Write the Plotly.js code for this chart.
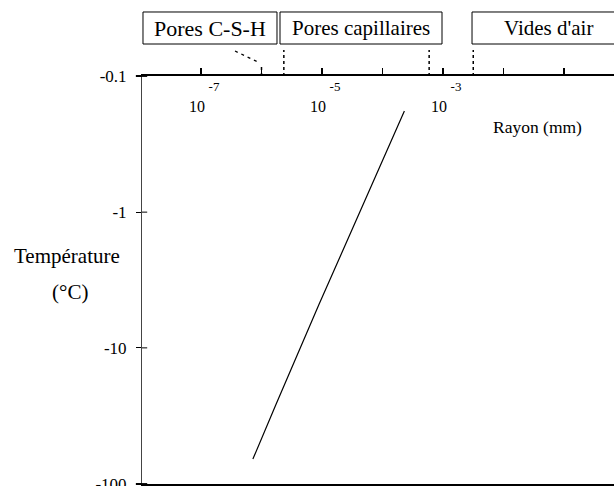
<!DOCTYPE html>
<html>
<head>
<meta charset="utf-8">
<script src="https://cdn.plot.ly/plotly-3.0.1.min.js"></script>
<style>html,body{margin:0;padding:0;background:#fff;overflow:hidden;}#chart{width:614px;height:486px;}</style>
</head>
<body>
<div id="chart"></div>
<script>
// Data
const radius_mm = [7.2e-7, 1.74e-6, 8.9e-6, 4.8e-5, 2.3e-4];
const temperature_C = [-66, -26, -4.8, -0.88, -0.18];

const NB = '\u00a0';
const xTickVals = [1e-8, 1e-7, 1e-6, 1e-5, 1e-4, 1e-3, 1e-2, 1e-1];
const xTickExp = ['', '-7', '', '-5', '', '-3', '', ''];
const yTickVals = [0.1, 1, 10, 100];
const yTickText = ['-0.1', '-1', '-10', '-100'];

const zoneLabels = ['Pores C-S-H', 'Pores capillaires', "Vides d'air"];
const zoneBoundaries_mm = [2.34e-6, 5.9e-4, 3.16e-3];

const FONT = 'Liberation Serif';

// tick label built as exponent line above a "10" line
const xTickText = xTickExp.map(e => e === '' ? '' :
  '<span style="font-size:13px">' + NB.repeat(8) + e + '</span><br>10' + NB.repeat(2));

const trace = {
  x: radius_mm,
  y: temperature_C.map(t => Math.abs(t)),
  type: 'scatter',
  mode: 'lines',
  line: {color: '#000', width: 1.2},
  hoverinfo: 'skip',
  showlegend: false
};

const shapes = [];
shapes.push({type: 'line', xref: 'paper', yref: 'paper', x0: -0.013, x1: 0, y0: 1, y1: 1, line: {color: '#000', width: 2}});
shapes.push({type: 'line', xref: 'paper', yref: 'paper', x0: -0.013, x1: 0, y0: 0, y1: 0, line: {color: '#000', width: 2}});
yTickVals.forEach(v => {
  shapes.push({type: 'line', xref: 'paper', yref: 'y', x0: 0, x1: 0.011, y0: v, y1: v, line: {color: '#000', width: 1}});
});
const boxes = [[0.0021, 0.286], [0.2924, 0.6356], [0.6992, 1.01]];
boxes.forEach(b => {
  shapes.push({type: 'rect', xref: 'paper', yref: 'paper', x0: b[0], x1: b[1], y0: 1.0784, y1: 1.1569, line: {color: '#000', width: 1}, fillcolor: '#fff'});
});
zoneBoundaries_mm.forEach(r => {
  shapes.push({type: 'line', xref: 'x', yref: 'paper', x0: r, x1: r, y0: 1.0, y1: 1.0637, line: {color: '#000', width: 1.5, dash: '3px,3px'}});
});
shapes.push({type: 'line', xref: 'x', yref: 'paper', x0: 3.65e-7, x1: 9.4e-7, y0: 1.0613, y1: 1.0319, line: {color: '#000', width: 1.3, dash: '3px,4px'}});
shapes.push({type: 'line', xref: 'x', yref: 'paper', x0: 1.0e-6, x1: 1.0e-6, y0: 1.0, y1: 1.027, line: {color: '#000', width: 1.5, dash: '3px,3px'}});

const boxCenters = [0.144, 0.464, 0.862];
const annotations = zoneLabels.map((t, i) => ({
  text: t, xref: 'paper', yref: 'paper', x: boxCenters[i], y: 1.1176,
  xanchor: 'center', yanchor: 'middle', showarrow: false,
  font: {family: FONT, size: i === 0 ? 22 : 21, color: '#000'}
}));
annotations.push({text: 'Rayon (mm)', xref: 'paper', yref: 'paper', x: 0.837, y: 0.875, xanchor: 'center', yanchor: 'middle', showarrow: false, font: {family: FONT, size: 17.5, color: '#000'}});
annotations.push({text: 'Température', xref: 'paper', yref: 'paper', x: -0.159, y: 0.558, xanchor: 'center', yanchor: 'middle', showarrow: false, font: {family: FONT, size: 21, color: '#000'}});
annotations.push({text: '(°C)', xref: 'paper', yref: 'paper', x: -0.153, y: 0.47, xanchor: 'center', yanchor: 'middle', showarrow: false, font: {family: FONT, size: 21, color: '#000'}});
annotations.push({text: '10', xref: 'paper', yref: 'paper', x: 0.9936, y: 0.925, xanchor: 'left', yanchor: 'middle', showarrow: false, font: {family: FONT, size: 16, color: '#000'}});

const layout = {
  width: 614, height: 486,
  margin: {l: 142, r: 0, t: 76, b: 2, pad: 0},
  paper_bgcolor: '#fff', plot_bgcolor: '#fff',
  showlegend: false,
  font: {family: FONT, size: 16, color: '#000'},
  xaxis: {
    type: 'log', side: 'top', range: [-7.975, -0.174],
    tickmode: 'array', tickvals: xTickVals, ticktext: xTickText,
    ticks: 'outside', ticklen: 6, tickwidth: 1.5, tickcolor: '#000',
    ticklabelposition: 'outside', ticklabelstandoff: -50, ticklabeloverflow: 'allow',
    showline: true, linewidth: 2, linecolor: '#000', mirror: true,
    showgrid: false, zeroline: false,
    tickfont: {family: FONT, size: 16, color: '#000'}
  },
  yaxis: {
    type: 'log', range: [2.003, -1.003],
    tickmode: 'array', tickvals: yTickVals, ticktext: yTickText,
    ticks: 'outside', ticklen: 5, tickwidth: 1, tickcolor: '#000',
    ticklabelstandoff: 6, ticklabeloverflow: 'allow',
    showline: true, linewidth: 1, linecolor: '#444',
    showgrid: false, zeroline: false,
    tickfont: {family: FONT, size: 17, color: '#000'}
  },
  shapes: shapes,
  annotations: annotations
};

Plotly.newPlot('chart', [trace], layout, {displayModeBar: false, staticPlot: true});
</script>
</body>
</html>
